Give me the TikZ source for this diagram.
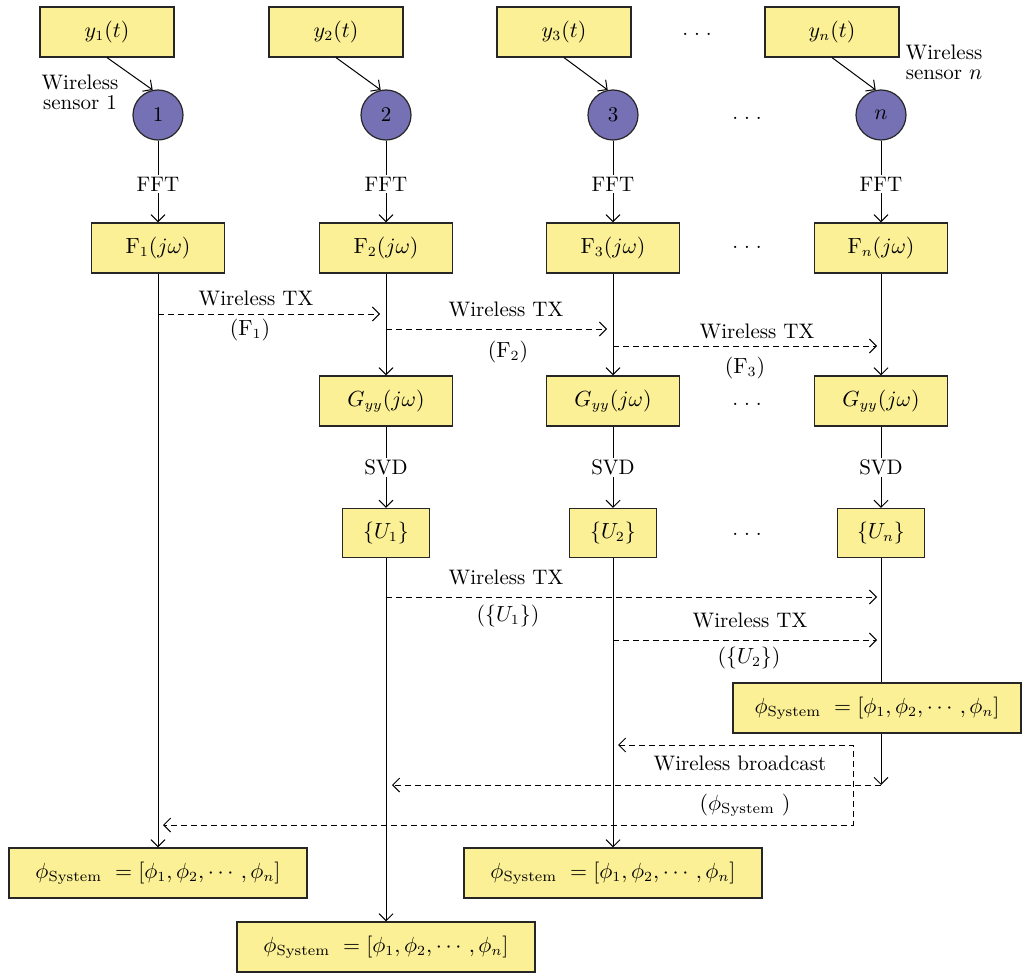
\documentclass[tikz,border=0pt]{standalone}
\usepackage{amsmath}
\usetikzlibrary{arrows.meta}
\definecolor{boxfill}{RGB}{252,240,150}
\definecolor{circfill}{RGB}{118,112,180}
\newcommand{\mydots}{.\hspace{3pt}.\hspace{3pt}.}
\begin{document}
\begin{tikzpicture}[x=0.5pt,y=-0.5pt,
  font=\fontsize{10.5}{12}\selectfont,
  >={Straight Barb[length=3.5pt,width=7pt]},
  ybox/.style={draw=black!85,fill=boxfill,line width=0.6pt,inner sep=0pt,minimum height=25pt},
  sensor/.style={circle,draw=black!85,fill=circfill,line width=0.6pt,inner sep=0pt,minimum size=25pt},
  arr/.style={->,line width=0.5pt},
  tx/.style={->,line width=0.5pt,dash pattern=on 3pt off 2pt},
  lbl/.style={fill=white,inner sep=1pt},
  dotsn/.style={inner sep=0pt}]
\useasboundingbox (0,0) rectangle (1022,974);

% top signal boxes
\node[ybox,minimum width=67pt] (y1) at (107,32) {$y_1(t)$};
\node[ybox,minimum width=67pt] (y2) at (336,32) {$y_2(t)$};
\node[ybox,minimum width=67pt] (y3) at (564,32) {$y_3(t)$};
\node[ybox,minimum width=67pt] (yn) at (832,32) {$y_n(t)$};
\node[dotsn] (d0) at (697,34) {\mydots};

% sensors
\node[sensor] (c1) at (158,115) {1};
\node[sensor] (c2) at (386,115) {2};
\node[sensor] (c3) at (613,115) {3};
\node[sensor] (cn) at (881,115) {$n$};
\node[dotsn] (d1) at (747,118) {\mydots};
\node[align=center,font=\fontsize{10.5}{10}\selectfont] (ws1) at (80,92) {Wireless\\sensor 1};
\node[align=center,font=\fontsize{10.5}{10}\selectfont] (wsn) at (944,62) {Wireless\\sensor $n$};

% F boxes
\node[ybox,minimum width=66.5pt] (f1) at (158,248) {$\mathrm{F}_1(j\omega)$};
\node[ybox,minimum width=66.5pt] (f2) at (386,248) {$\mathrm{F}_2(j\omega)$};
\node[ybox,minimum width=66.5pt] (f3) at (613,248) {$\mathrm{F}_3(j\omega)$};
\node[ybox,minimum width=66.5pt] (fn) at (881,248) {$\mathrm{F}_n(j\omega)$};
\node[dotsn] (d2) at (747,247) {\mydots};

% G boxes
\node[ybox,minimum width=66.5pt] (g2) at (386,401) {$G_{yy}(j\omega)$};
\node[ybox,minimum width=66.5pt] (g3) at (613,401) {$G_{yy}(j\omega)$};
\node[ybox,minimum width=66.5pt] (gn) at (881,401) {$G_{yy}(j\omega)$};
\node[dotsn] (d3) at (747,404) {\mydots};

% U boxes
\node[ybox,minimum width=43.5pt,minimum height=24.5pt] (u1) at (386,533) {$\{U_1\}$};
\node[ybox,minimum width=43.5pt,minimum height=24.5pt] (u2) at (613,533) {$\{U_2\}$};
\node[ybox,minimum width=43.5pt,minimum height=24.5pt] (un) at (881,533) {$\{U_n\}$};
\node[dotsn] (d4) at (747,534) {\mydots};

% phi boxes
\node[ybox,minimum width=144pt] (pn) at (877,708) {$\phi_{\text{System}}\ = [\phi_1,\phi_2,\cdots,\phi_n]$};
\node[ybox,minimum width=149pt] (p1) at (158,873) {$\phi_{\text{System}}\ = [\phi_1,\phi_2,\cdots,\phi_n]$};
\node[ybox,minimum width=149pt] (p3) at (613,873) {$\phi_{\text{System}}\ = [\phi_1,\phi_2,\cdots,\phi_n]$};
\node[ybox,minimum width=149pt] (p2) at (386,947) {$\phi_{\text{System}}\ = [\phi_1,\phi_2,\cdots,\phi_n]$};

% sensor inputs
\draw[arr] (y1.south) -- (c1.102);
\draw[arr] (y2.south) -- (c2.102);
\draw[arr] (y3.south) -- (c3.102);
\draw[arr] (yn.south) -- (cn.102);

% FFT
\draw[arr] (c1) -- node[lbl,pos=0.53] {FFT} (f1);
\draw[arr] (c2) -- node[lbl,pos=0.53] {FFT} (f2);
\draw[arr] (c3) -- node[lbl,pos=0.53] {FFT} (f3);
\draw[arr] (cn) -- node[lbl,pos=0.53] {FFT} (fn);

% columns
\draw[arr] (f1) -- (p1);
\draw[arr] (f2) -- (g2);
\draw[arr] (f3) -- (g3);
\draw[arr] (fn) -- (gn);
\draw[arr] (g2) -- node[lbl] {SVD} (u1);
\draw[arr] (g3) -- node[lbl] {SVD} (u2);
\draw[arr] (gn) -- node[lbl] {SVD} (un);
\draw[arr] (u1) -- (p2);
\draw[arr] (u2) -- (p3);
\draw[line width=0.5pt] (un.south) -- (un.south |- pn.north);
\coordinate (bc) at (881,785);
\draw[arr] (pn.south -| un.south) -- (bc);

% wireless TX of F
\coordinate (a1) at (158,314); \coordinate (b1) at (386,314);
\coordinate (a2) at (386,329); \coordinate (b2) at (613,329);
\coordinate (a3) at (613,346); \coordinate (b3) at (881,346);
\draw[tx,shorten >=3pt] (a1) -- (b1);
\draw[tx,shorten >=3pt] (a2) -- (b2);
\draw[tx,shorten >=2pt] (a3) -- (b3);
\node (t1) at (256,298) {Wireless TX};
\node (l1) at (250,330) {$(\mathrm{F}_1)$};
\node (t2) at (506,309) {Wireless TX};
\node (l2) at (508,352) {$(\mathrm{F}_2)$};
\node (t3) at (757,331) {Wireless TX};
\node (l3) at (745,368) {$(\mathrm{F}_3)$};

% wireless TX of U
\coordinate (a4) at (386,597); \coordinate (b4) at (881,597);
\coordinate (a5) at (613,640); \coordinate (b5) at (881,640);
\draw[tx,shorten >=2pt] (a4) -- (b4);
\draw[tx,shorten >=2pt] (a5) -- (b5);
\node (t4) at (506,577) {Wireless TX};
\node (l4) at (508,616) {$(\{U_1\})$};
\node (t5) at (750,620) {Wireless TX};
\node (l5) at (749,658) {$(\{U_2\})$};

% broadcast
\coordinate (bb2) at (386,785);
\coordinate (bb3) at (613,745);
\coordinate (bk1) at (853,745);
\coordinate (bk2) at (853,825);
\coordinate (bb1) at (158,825);
\draw[tx,shorten >=3pt] (bc) -- (bb2);
\draw[tx,<->,shorten >=2.5pt,shorten <=2.5pt] (bb3) -- (bk1) -- (bk2) -- (bb1);
\node (t6) at (740,763) {Wireless broadcast};
\node (l6) at (745,805) {$(\phi_{\text{System}}\ )$};
\end{tikzpicture}
\end{document}
